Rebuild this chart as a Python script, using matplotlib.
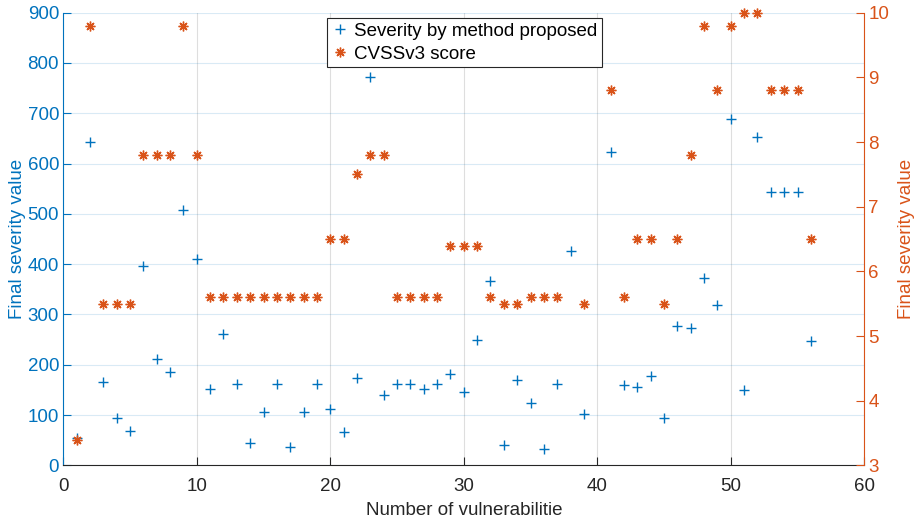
import matplotlib
matplotlib.use("Agg")
import matplotlib.pyplot as plt

plt.rcParams['font.family'] = ['Liberation Sans', 'DejaVu Sans']

# vulnerability index
vuln = list(range(1, 57))

# severity by method proposed (left axis)
severity = [54, 643, 166, 95, 68, 396, 211, 185, 507, 411,
            152, 262, 161, 44, 106, 161, 37, 106, 161, 113,
            66, 173, 773, 140, 161, 161, 152, 161, 182, 145,
            250, 367, 40, 170, 124, 33, 161, 427, 102, 862,
            624, 159, 156, 178, 94, 278, 274, 372, 319, 689,
            149, 653, 543, 543, 543, 248]

# CVSSv3 score (right axis)
cvss = [3.4, 9.8, 5.5, 5.5, 5.5, 7.8, 7.8, 7.8, 9.8, 7.8,
        5.6, 5.6, 5.6, 5.6, 5.6, 5.6, 5.6, 5.6, 5.6, 6.5,
        6.5, 7.5, 7.8, 7.8, 5.6, 5.6, 5.6, 5.6, 6.4, 6.4,
        6.4, 5.6, 5.5, 5.5, 5.6, 5.6, 5.6, 9.8, 5.5, 9.8,
        8.8, 5.6, 6.5, 6.5, 5.5, 6.5, 7.8, 9.8, 8.8, 9.8,
        10, 10, 8.8, 8.8, 8.8, 6.5]

blue = '#0072BD'
orange = '#D95319'
dark = '#262626'
fs = 13.5

fig = plt.figure(figsize=(9.21, 5.2), dpi=100)
ax1 = fig.add_axes([0.0687, 0.105, 0.8697, 0.8706])
ax2 = ax1.twinx()

p1, = ax1.plot(vuln, severity, linestyle='none', marker='+', color=blue,
               markersize=7.5, markeredgewidth=1.0, clip_on=False, zorder=3)
p2, = ax2.plot(vuln, cvss, linestyle='none', marker=(8, 2, 0), color=orange,
               markersize=7, markeredgewidth=1.0, clip_on=False, zorder=3)

ax1.set_xlim(0, 60)
ax1.set_ylim(0, 900)
ax2.set_ylim(3, 10)
ax1.set_xticks(range(0, 61, 10))
ax1.set_yticks(range(0, 901, 100))
ax2.set_yticks(range(3, 11))

ax1.set_axisbelow(True)
ax1.grid(axis='x', color=dark, alpha=0.15, linewidth=0.8)
ax1.grid(axis='y', color=blue, alpha=0.15, linewidth=0.8)

for ax in (ax1, ax2):
    ax.spines['top'].set_visible(False)
ax1.spines['right'].set_visible(False)
ax2.spines['left'].set_visible(False)
ax2.spines['bottom'].set_visible(False)
ax1.spines['bottom'].set_color(dark)
ax1.spines['left'].set_color(blue)
ax2.spines['right'].set_color(orange)

ax1.tick_params(axis='x', direction='in', length=6, colors=dark, labelsize=fs, pad=9)
ax1.tick_params(axis='y', direction='in', length=6, colors=blue, labelsize=fs, pad=3)
ax2.tick_params(axis='y', direction='in', length=6, colors=orange, labelsize=fs, pad=3)

ax1.set_xlabel('Number of vulnerabilitie', fontsize=fs, color=dark, labelpad=5)
ax1.set_ylabel('Final severity value', fontsize=fs, color=blue, labelpad=1)
ax2.set_ylabel('Final severity value', fontsize=fs, color=orange, labelpad=6)

leg = ax2.legend([p1, p2], ['Severity by method proposed', 'CVSSv3 score'],
                 loc='upper left', bbox_to_anchor=(0.329, 0.988),
                 borderaxespad=0, fontsize=fs, fancybox=False, framealpha=1,
                 edgecolor=dark, handlelength=0.9, handletextpad=0.3,
                 borderpad=0.25, labelspacing=0.3)
leg.get_frame().set_linewidth(0.8)

fig.savefig('out.png', dpi=100)
